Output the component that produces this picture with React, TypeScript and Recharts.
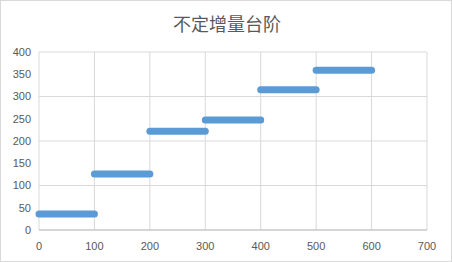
import { LineChart, Line, XAxis, YAxis, CartesianGrid } from 'recharts';

const TITLE = '不定增量台阶';
const STEP_STARTS = [0, 100, 200, 300, 400, 500];
const STEP_WIDTH = 100;
const STEP_VALUES = [36, 126, 222, 247, 315, 359];
const X_TICKS = [0, 100, 200, 300, 400, 500, 600, 700];
const Y_TICKS = [0, 50, 100, 150, 200, 250, 300, 350, 400];

const BLUE = '#5B9BD5';
const TEXT = '#595959';
const FONT = '"Liberation Sans", Arial, sans-serif';

const steps = STEP_STARTS.map((x0, i) => [
  { x: x0, y: STEP_VALUES[i] },
  { x: x0 + STEP_WIDTH, y: STEP_VALUES[i] },
]);

export default function App() {
  return (
    <div style={{ position: 'absolute', left: 0, top: 0, width: 452, height: 262, background: '#fff', boxSizing: 'border-box', border: '1px solid #D9D9D9' }}>
      <div style={{ position: 'absolute', left: 0, top: 10, width: 452, textAlign: 'center', fontFamily: '"Noto Sans CJK SC", sans-serif', fontSize: 18, lineHeight: '24px', color: TEXT }}>
        {TITLE}
      </div>
      <LineChart width={450} height={260} margin={{ top: 51, right: 24, bottom: 11, left: 8 }}
                 style={{ position: 'absolute', left: 0, top: 0 }}>
        <CartesianGrid stroke="#D9D9D9" strokeWidth={1} horizontalValues={Y_TICKS} verticalValues={X_TICKS} />
        <XAxis type="number" dataKey="x" domain={[0, 700]} ticks={X_TICKS} allowDuplicatedCategory={false}
               tickLine={false} axisLine={{ stroke: '#BFBFBF' }} height={20} tickMargin={6}
               tick={{ fontSize: 11, fill: TEXT, fontFamily: FONT }} />
        <YAxis type="number" domain={[0, 400]} ticks={Y_TICKS} width={30}
               tickLine={false} axisLine={false} tickMargin={2}
               tick={{ fontSize: 11, fill: TEXT, fontFamily: FONT }} />
        {steps.map((d, i) => (
          <Line key={i} data={d} dataKey="y" type="linear" stroke={BLUE} strokeWidth={7}
                strokeLinecap="round" dot={false} activeDot={false} isAnimationActive={false} />
        ))}
      </LineChart>
    </div>
  );
}
